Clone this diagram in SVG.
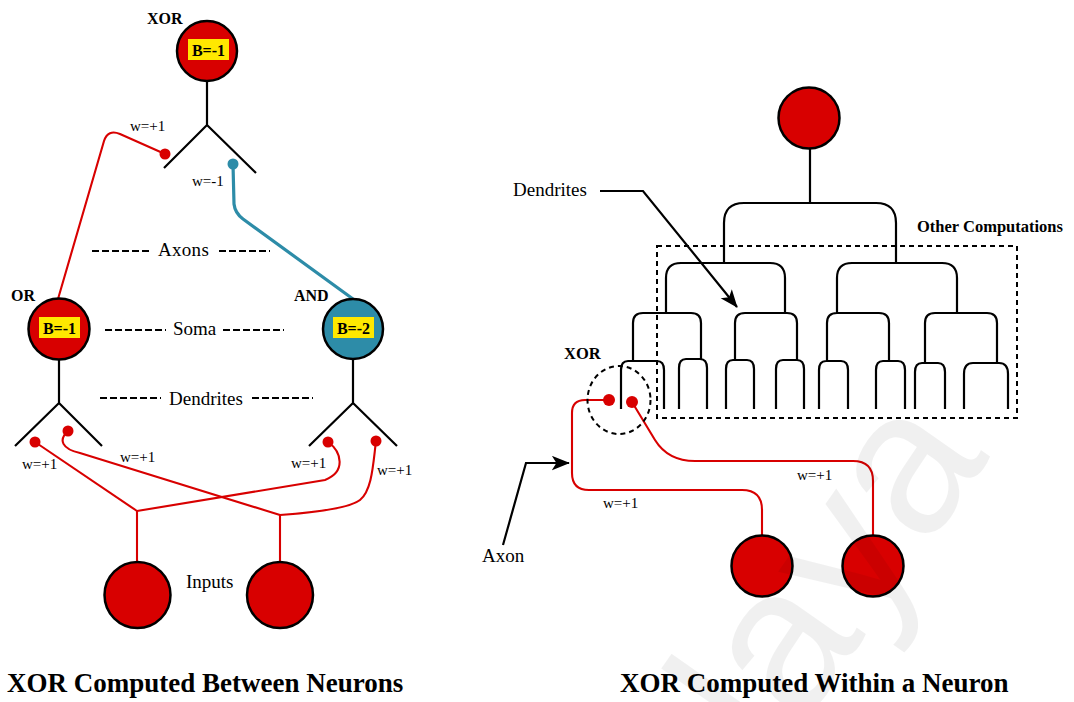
<svg xmlns="http://www.w3.org/2000/svg" width="1074" height="702" viewBox="0 0 1074 702">
<defs>
<style>
.red{fill:#d80000;stroke:#000;stroke-width:2.5}
.blue{fill:#2d8ca8;stroke:#000;stroke-width:2.5}
.box{fill:#ffe800}
.blk{fill:none;stroke:#000;stroke-width:2.2}
.rl{fill:none;stroke:#d80000;stroke-width:2.1}
.bl{fill:none;stroke:#2d8ca8;stroke-width:3.2}
.dot{fill:#d80000}
.dash{fill:none;stroke:#000;stroke-width:2;stroke-dasharray:7 3}
.t{font-family:"Liberation Serif","Times New Roman",serif;fill:#000}
.b{font-weight:bold}
.w{font-size:15px}
.m{font-size:19px}
</style>
<marker id="arr" viewBox="0 0 20 16" refX="19" refY="8" markerWidth="18" markerHeight="15" markerUnits="userSpaceOnUse" orient="auto">
<path d="M0,0 L20,8 L0,16 L5,8 z" fill="#000"/>
</marker>
</defs>
<rect width="1074" height="702" fill="#fff"/>

<g id="connectors">
<path class="rl" d="M165,154 L120,134 Q108,129 104,141 L58,299"/>
<path class="bl" d="M233,164 L234,204 Q235,213 243,219 L353,299"/>
<path class="rl" d="M35,442 L137,511"/>
<path class="rl" d="M68,431 C58,440 62,449 80,453 L280,515"/>
<path class="rl" d="M328,442 C342,452 346,472 325,480 L137,511"/>
<path class="rl" d="M376,441 C373,465 372,490 360,500 C350,508 320,512 280,515"/>
<path class="rl" d="M137,511 V562"/>
<path class="rl" d="M280,515 V562"/>
<circle class="dot" cx="165" cy="154" r="5.5"/>
<circle cx="233" cy="164" r="5.5" fill="#2d8ca8"/>
<circle class="dot" cx="35" cy="442" r="5.5"/>
<circle class="dot" cx="68" cy="431" r="5.5"/>
<circle class="dot" cx="328" cy="442" r="5.5"/>
<circle class="dot" cx="376" cy="441" r="5.5"/>
<path class="rl" d="M609,400 L585,400 Q572,400 572,413 L572,473 Q572,490 589,490 L742,490 Q762,490 762,510 L762,536"/>
<path class="rl" d="M632,402 L655,440 Q668,461 695,461 L853,461 Q873,461 873,481 L873,536"/>
<circle class="dot" cx="609" cy="400" r="6"/>
<circle class="dot" cx="632" cy="402" r="6"/>
<path class="blk" d="M600,191 H643 L737,307" marker-end="url(#arr)"/>
<path class="blk" d="M503,545 L526,463 H569" marker-end="url(#arr)"/>
</g>

<g id="xor-left">
<path class="blk" d="M207,81 V125 M164,168 L207,125 L256,173"/>
<circle class="red" cx="207" cy="51" r="30"/>
<rect class="box" x="188" y="39" width="41" height="21"/>
<text class="t b" x="208.5" y="55.5" font-size="16" text-anchor="middle">B=-1</text>
<text class="t b" x="147" y="24" font-size="16">XOR</text>
</g>

<g id="or">
<path class="blk" d="M59,360 V403 M15,446 L59,403 L102,446"/>
<circle class="red" cx="59" cy="329" r="30.5"/>
<rect class="box" x="39" y="317" width="41" height="21"/>
<text class="t b" x="59.5" y="333.5" font-size="16" text-anchor="middle">B=-1</text>
<text class="t b" x="11" y="301" font-size="16">OR</text>
</g>

<g id="and">
<path class="blk" d="M353,360 V403 M309,446 L353,403 L397,446"/>
<circle class="blue" cx="353" cy="329" r="30"/>
<rect class="box" x="333" y="317" width="41" height="21"/>
<text class="t b" x="353.5" y="333.5" font-size="16" text-anchor="middle">B=-2</text>
<text class="t b" x="294" y="301" font-size="16">AND</text>
</g>

<g id="input-left-1"><circle class="red" cx="137.5" cy="595" r="33"/></g>
<g id="input-left-2"><circle class="red" cx="280" cy="595" r="33"/></g>

<g id="left-labels">
<text class="t w" x="130" y="131">w=+1</text>
<text class="t w" x="192" y="186">w=-1</text>
<text class="t w" x="22" y="469">w=+1</text>
<text class="t w" x="120" y="462">w=+1</text>
<text class="t w" x="291" y="468">w=+1</text>
<text class="t w" x="377" y="475">w=+1</text>
<path class="dash" d="M92,251 H150 M219,251 H270 M105,330 H166 M223,330 H284 M100,398 H161 M252,398 H313"/>
<text class="t m" x="158" y="256" letter-spacing="0.3">Axons</text>
<text class="t m" x="173" y="335">Soma</text>
<text class="t m" x="169" y="405">Dendrites</text>
<text class="t m" x="186" y="588">Inputs</text>
<text class="t b" x="7" y="692" font-size="27">XOR Computed Between Neurons</text>
</g>

<g id="neuron-right">
<circle class="red" cx="809" cy="118" r="30.5"/>
<path class="blk" d="M810,149 V203
M724,263 V223 Q724,203 744,203 H876 Q896,203 896,223 V263
M666,313 V278 Q666,263 681,263 H770 Q785,263 785,278 V313
M837,313 V278 Q837,263 852,263 H942 Q957,263 957,278 V313
M633,361 V323 Q633,313 643,313 H691 Q701,313 701,323 V359
M735,360 V323 Q735,313 745,313 H787 Q797,313 797,323 V360
M827,361 V323 Q827,313 837,313 H879 Q889,313 889,323 V361
M925,363 V323 Q925,313 935,313 H987 Q997,313 997,323 V363
M621,409 V370 Q621,361 628,361 H657 Q664,361 664,370 V409
M679,409 V368 Q679,359 686,359 H700 Q707,359 707,368 V409
M726,409 V369 Q726,360 733,360 H747 Q754,360 754,369 V409
M776,409 V369 Q776,360 783,360 H797 Q804,360 804,369 V409
M819,409 V370 Q819,361 826,361 H841 Q848,361 848,370 V409
M876,409 V370 Q876,361 883,361 H898 Q905,361 905,370 V409
M915,409 V372 Q915,363 922,363 H938 Q945,363 945,372 V409
M964,409 V374 Q964,363 973,363 H999 Q1008,363 1008,374 V409"/>
</g>

<g id="other-computations">
<rect x="657" y="246" width="360" height="172" fill="none" stroke="#000" stroke-width="2" stroke-dasharray="5 4"/>
<text class="t b" x="917" y="232" font-size="16.5">Other Computations</text>
</g>

<g id="xor-right">
<ellipse cx="619" cy="400" rx="31.5" ry="34" fill="none" stroke="#000" stroke-width="2" stroke-dasharray="5 4"/>
<text class="t b" x="564" y="359" font-size="16.5">XOR</text>
</g>

<g id="input-right-1"><circle class="red" cx="762" cy="566" r="30.5"/></g>
<g id="input-right-2"><circle class="red" cx="873" cy="566" r="30.5"/></g>

<g id="right-labels">
<text class="t m" x="513" y="196">Dendrites</text>
<text class="t m" x="482" y="562">Axon</text>
<text class="t w" x="797" y="480">w=+1</text>
<text class="t w" x="603" y="508">w=+1</text>
<text class="t b" x="620" y="692" font-size="27">XOR Computed Within a Neuron</text>
</g>

<text x="0" y="0" transform="translate(775,765) rotate(-55)" font-family="Liberation Sans, Arial, sans-serif" font-size="205" fill="#000" fill-opacity="0.06">laya</text>
</svg>
